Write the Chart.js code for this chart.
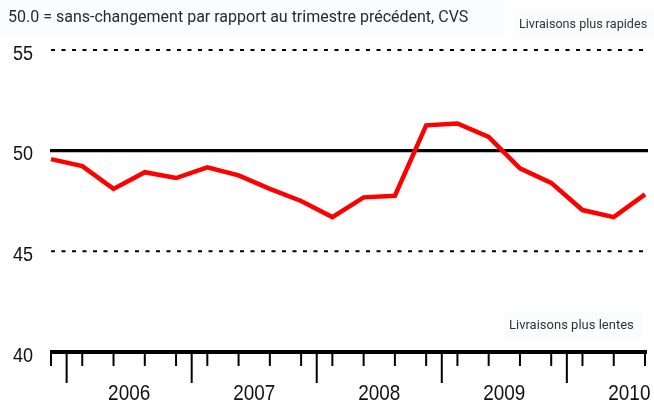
<!DOCTYPE html>
<html lang="fr">
<head>
<meta charset="UTF-8">
<title>Délais de livraison</title>
<script src="https://cdn.jsdelivr.net/npm/chart.js"></script>
<style>
  html, body { margin: 0; padding: 0; background: #fff; }
  #wrap { position: relative; width: 654px; height: 403px; overflow: hidden; }
</style>
</head>
<body>
<div id="wrap"><canvas id="chart" width="654" height="403"></canvas></div>
<script>
// quarters, from T4 2005 to T3 2010
const quarters = ['T4 2005',
  'T1 2006', 'T2 2006', 'T3 2006', 'T4 2006',
  'T1 2007', 'T2 2007', 'T3 2007', 'T4 2007',
  'T1 2008', 'T2 2008', 'T3 2008', 'T4 2008',
  'T1 2009', 'T2 2009', 'T3 2009', 'T4 2009',
  'T1 2010', 'T2 2010', 'T3 2010'];
const delais = [49.58, 49.23, 48.1, 48.93, 48.64,
  49.17, 48.77, 48.1, 47.5,
  46.7, 47.68, 47.76, 51.26,
  51.35, 50.68, 49.12, 48.4,
  47.05, 46.7, 47.83];
const yTicks = [40, 45, 50, 55];
const years = ['2006', '2007', '2008', '2009', '2010'];
const neutral = 50;

const title = '50.0 = sans-changement par rapport au trimestre précédent, CVS';
const topNote = 'Livraisons plus rapides';
const bottomNote = 'Livraisons plus lentes';

const numFont = '"Liberation Sans", Arial, sans-serif';
const plain = 'Roboto, "Noto Sans", Arial, sans-serif';

// condensed text: squeeze a normal sans horizontally
function narrowText(ctx, txt, x, y, size, squeeze, align) {
  ctx.save();
  ctx.font = size + 'px ' + numFont;
  ctx.textAlign = align;
  ctx.translate(x, y);
  ctx.scale(squeeze, 1);
  ctx.fillText(txt, 0, 0);
  ctx.restore();
}

const decor = {
  id: 'decor',
  beforeDraw(chart) {
    const ctx = chart.ctx;
    ctx.save();
    ctx.fillStyle = '#fafcfd';
    ctx.fillRect(0, 0, 505, 34);
    ctx.fillRect(514, 10, 140, 28);
    ctx.fillRect(503, 312, 140, 26);
    ctx.fillStyle = '#2a2a2a';
    ctx.textBaseline = 'middle';
    ctx.font = '16px ' + plain;
    ctx.fillText(title, 8, 18);
    ctx.fillStyle = '#333';
    ctx.font = '12.6px ' + plain;
    ctx.fillText(topNote, 519, 25);
    ctx.font = '13px ' + plain;
    ctx.fillText(bottomNote, 509, 326);
    ctx.restore();
  },
  beforeDatasetsDraw(chart) {
    const ctx = chart.ctx;
    const y = chart.scales.y;
    const a = chart.chartArea;
    ctx.save();
    yTicks.forEach(v => {
      const py = y.getPixelForValue(v);
      if (v === neutral) {
        ctx.setLineDash([]);
        ctx.lineWidth = 3.2;
        ctx.strokeStyle = '#000';
        ctx.beginPath();
        ctx.moveTo(a.left - 1, py);
        ctx.lineTo(a.right + 3, py);
        ctx.stroke();
      } else if (v !== y.min) {
        ctx.setLineDash([4, 6.5]);
        ctx.lineWidth = 2;
        ctx.strokeStyle = '#000';
        ctx.beginPath();
        ctx.moveTo(a.left, py);
        ctx.lineTo(a.right, py);
        ctx.stroke();
      }
      ctx.setLineDash([]);
      ctx.fillStyle = '#111';
      ctx.textBaseline = 'middle';
      narrowText(ctx, String(v), 33, py + 4, 20, 0.9, 'right');
    });
    ctx.restore();
  },
  afterDatasetsDraw(chart) {
    const ctx = chart.ctx;
    const x = chart.scales.x;
    const y = chart.scales.y;
    const a = chart.chartArea;
    const base = y.getPixelForValue(y.min);
    const step = x.getPixelForValue(1) - x.getPixelForValue(0);
    ctx.save();
    ctx.strokeStyle = '#000';
    ctx.lineWidth = 4;
    ctx.beginPath();
    ctx.moveTo(a.left - 1, base);
    ctx.lineTo(a.right + 2, base);
    ctx.stroke();
    ctx.lineWidth = 2;
    quarters.forEach((q, i) => {
      const px = x.getPixelForValue(i);
      ctx.beginPath();
      ctx.moveTo(px, base);
      ctx.lineTo(px, base + 14);
      ctx.stroke();
      if (q.startsWith('T4')) {
        const bx = px + step / 2;
        ctx.beginPath();
        ctx.moveTo(bx, base);
        ctx.lineTo(bx, base + 31);
        ctx.stroke();
      }
    });
    ctx.fillStyle = '#111';
    ctx.textBaseline = 'alphabetic';
    years.forEach(yr => {
      const q1 = quarters.indexOf('T1 ' + yr);
      const c = x.getPixelForValue(q1) + 1.5 * step;
      narrowText(ctx, yr, c, 400, 22, 0.86, 'center');
    });
    ctx.restore();
  }
};

new Chart(document.getElementById('chart'), {
  type: 'line',
  data: {
    labels: quarters,
    datasets: [{
      data: delais,
      borderColor: '#ff0000',
      borderWidth: 4.5,
      pointRadius: 0,
      tension: 0,
      fill: false
    }]
  },
  options: {
    responsive: false,
    animation: false,
    layout: { padding: { left: 51, right: 9, top: 50, bottom: 51 } },
    plugins: { legend: { display: false }, tooltip: { enabled: false } },
    scales: {
      x: { type: 'category', display: false, offset: false },
      y: { display: false, min: 40, max: 55 }
    }
  },
  plugins: [decor]
});
</script>
</body>
</html>
